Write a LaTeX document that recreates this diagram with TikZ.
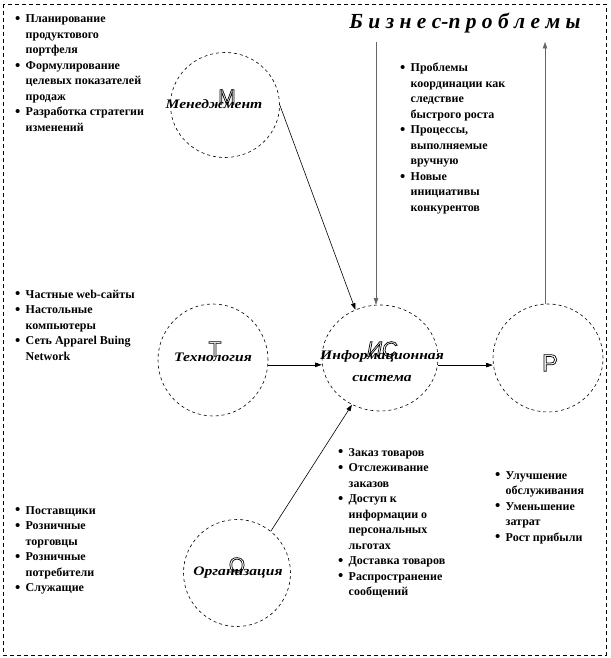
\documentclass[tikz,border=0pt]{standalone}
\usepackage{fontspec}
\setmainfont{Liberation Serif}
\newfontfamily\lsans{Liberation Sans}
\newfontfamily\lblfont[FakeStretch=1.2]{Liberation Serif}
\usetikzlibrary{shapes.geometric,arrows.meta}
\newcommand\outl[1]{\special{pdf:literal direct 1 Tr 0.7 w}#1\special{pdf:literal direct 0 Tr}}
\newcommand\bu{\makebox[10.5pt][l]{\raisebox{-0.8pt}{\fontsize{15}{15}\selectfont\textbullet}}}
\tikzset{
 circ/.style={ellipse, draw=black, dash pattern=on 3pt off 3pt, line width=0.6pt, inner sep=0pt},
 lbl/.style={font=\fontsize{13}{22}\selectfont\lblfont\bfseries\itshape, align=center, inner sep=0pt},
 bigl/.style={font=\fontsize{21}{21}\selectfont\lsans, inner sep=0pt},
 txt/.style={font=\fontsize{12}{15.5}\selectfont\bfseries, inner sep=0pt, anchor=base west},
 arr/.style={-{Triangle[length=6.5pt,width=4.5pt]}, line width=0.6pt},
 varr/.style={arr, draw=black!60},
}
\begin{document}
\begin{tikzpicture}[x=1pt,y=-1pt]
\useasboundingbox (0,0) rectangle (610,658);
\draw[dash pattern=on 4pt off 3pt, line width=0.6pt] (3,4) rectangle (606,655);

% circles
\node[circ, minimum width=109pt, minimum height=105pt] (m) at (225,105) {};
\node[circ, minimum width=110pt, minimum height=112pt] (t) at (213,360) {};
\node[circ, minimum width=116pt, minimum height=106pt] (is) at (380,358) {};
\node[circ, minimum width=110pt, minimum height=108pt] (p) at (548,358) {};
\node[circ, minimum width=107pt, minimum height=107pt] (o) at (237,573) {};

% labels
\node[lbl] (ml) at (214,104) {Менеджмент};
\node[lbl] (tl) at (213,357) {Технология};
\node[lbl] (isl) at (382,366) {Информационная\\система};
\node[lbl] (ol) at (238,573) {Организация};

% big outline letters
\node[bigl] (mb) at (227,97) {\outl{М}};
\node[bigl] (tb) at (215,349) {\outl{Т}};
\node[bigl, font=\fontsize{21}{21}\selectfont\lsans\itshape] (isb) at (382,349) {\outl{ИС}};
\node[bigl, font=\fontsize{24}{24}\selectfont\lsans] (pb) at (550,363) {\outl{Р}};
\node[bigl] (ob) at (237,565) {\outl{О}};

% title
\node[font=\fontsize{21.5}{21.5}\selectfont\bfseries\itshape, inner sep=0pt] (title) at (465,23) {Б и з н е с-п р о б л е м ы};

% text blocks
\node[txt] (b1) at (15,23) {\begin{tabular}[t]{@{}l@{}l@{}}
\bu & Планирование\\ & продуктового\\ & портфеля\\
\bu & Формулирование\\ & целевых показателей\\ & продаж\\
\bu & Разработка стратегии\\ & изменений
\end{tabular}};
\node[txt] (b2) at (400,72) {\begin{tabular}[t]{@{}l@{}l@{}}
\bu & Проблемы\\ & координации как\\ & следствие\\ & быстрого роста\\
\bu & Процессы,\\ & выполняемые\\ & вручную\\
\bu & Новые\\ & инициативы\\ & конкурентов
\end{tabular}};
\node[txt] (b3) at (15,298) {\begin{tabular}[t]{@{}l@{}l@{}}
\bu & Частные web-сайты\\
\bu & Настольные\\ & компьютеры\\
\bu & Сеть Apparel Buing\\ & Network
\end{tabular}};
\node[txt] (b4) at (338,456) {\begin{tabular}[t]{@{}l@{}l@{}}
\bu & Заказ товаров\\
\bu & Отслеживание\\ & заказов\\
\bu & Доступ к\\ & информации о\\ & персональных\\ & льготах\\
\bu & Доставка товаров\\
\bu & Распространение\\ & сообщений
\end{tabular}};
\node[txt] (b5) at (495,479) {\begin{tabular}[t]{@{}l@{}l@{}}
\bu & Улучшение\\ & обслуживания\\
\bu & Уменьшение\\ & затрат\\
\bu & Рост прибыли
\end{tabular}};
\node[txt] (b6) at (15,514) {\begin{tabular}[t]{@{}l@{}l@{}}
\bu & Поставщики\\
\bu & Розничные\\ & торговцы\\
\bu & Розничные\\ & потребители\\
\bu & Служащие
\end{tabular}};

% connectors
\coordinate (top1) at (376,42);
\coordinate (top2) at (545,42);
\draw[varr] (top1) -- (top1 |- is.north);
\draw[varr] (p.north -| top2) -- (top2);
\draw[arr] (m.east) -- (is.117);
\draw[arr] (t.-5) -- (t.-5 -| is.west);
\draw[arr] (is.-7) -- (is.-7 -| p.west);
\draw[arr] (o.51) -- (is.239);
\end{tikzpicture}
\end{document}
